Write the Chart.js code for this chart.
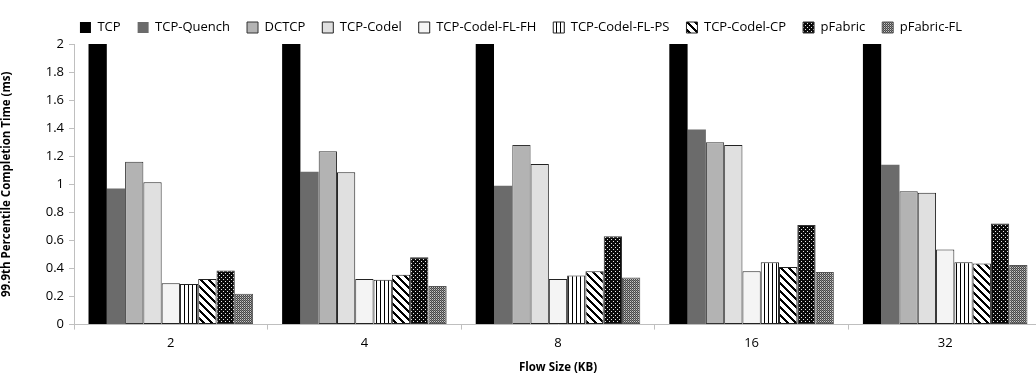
<!DOCTYPE html>
<html>
<head>
<meta charset="utf-8">
<script src="https://cdn.jsdelivr.net/npm/chart.js@4"></script>
<style>
  html, body { margin: 0; padding: 0; background: #fff; overflow: hidden; }
  #wrap { width: 1042px; height: 379px; }
</style>
</head>
<body>
<div id="wrap"><canvas id="myChart"></canvas></div>
<script>
// Flow sizes on the x axis
const flowSizes = ['2', '4', '8', '16', '32'];

// 99.9th percentile completion time (ms), one array per scheme
const tcp          = [3.0, 3.0, 3.0, 3.0, 3.0];   // off the top of the axis
const tcpQuench    = [0.97, 1.09, 0.99, 1.39, 1.14];
const dctcp        = [1.16, 1.235, 1.28, 1.30, 0.95];
const tcpCodel     = [1.015, 1.085, 1.145, 1.28, 0.94];
const codelFlFh    = [0.295, 0.325, 0.325, 0.38, 0.535];
const codelFlPs    = [0.29, 0.32, 0.35, 0.445, 0.445];
const codelCp      = [0.325, 0.355, 0.38, 0.41, 0.435];
const pFabric      = [0.385, 0.48, 0.63, 0.71, 0.72];
const pFabricFl    = [0.22, 0.275, 0.335, 0.375, 0.425];

const yTicks = [0, 0.2, 0.4, 0.6, 0.8, 1, 1.2, 1.4, 1.6, 1.8, 2];

// small helper to build fill patterns pixel by pixel
function makePattern(size, pick) {
    const c = document.createElement('canvas');
    c.width = size; c.height = size;
    const g = c.getContext('2d');
    const img = g.createImageData(size, size);
    for (let y = 0; y < size; y++) {
        for (let x = 0; x < size; x++) {
            const v = pick(x, y);
            const i = (y * size + x) * 4;
            img.data[i] = v; img.data[i + 1] = v; img.data[i + 2] = v; img.data[i + 3] = 255;
        }
    }
    g.putImageData(img, 0, 0);
    return g.createPattern(c, 'repeat');
}

const ctx = document.querySelector('#myChart').getContext('2d');

const vStripes = makePattern(4, (x, y) => x === 0 ? 0 : 255);
const dStripes = makePattern(8, (x, y) => ((x - y + 16) % 8) < 3 ? 0 : 255);
const dots     = makePattern(4, (x, y) => ((x === 1 && y === 1) || (x === 3 && y === 3)) ? 230 : 10);
const checks   = makePattern(4, (x, y) => ((x + y) % 2 === 0) ? 70 : ((x % 2 === 0) ? 200 : 130));

function ds(label, data, fill, border, bw) {
    return {
        label: label,
        data: data,
        backgroundColor: fill,
        borderColor: border,
        borderWidth: bw,
        borderSkipped: false
    };
}

const config = {
    type: 'bar',
    data: {
        labels: flowSizes,
        datasets: [
            ds('TCP', tcp, '#000000', '#000000', 0),
            ds('TCP-Quench', tcpQuench, '#6b6b6b', '#6b6b6b', 0),
            ds('DCTCP', dctcp, '#b3b3b3', '#333333', 1),
            ds('TCP-Codel', tcpCodel, '#e0e0e0', '#222222', 1),
            ds('TCP-Codel-FL-FH', codelFlFh, '#f4f4f4', '#222222', 1),
            ds('TCP-Codel-FL-PS', codelFlPs, vStripes, '#222222', 1),
            ds('TCP-Codel-CP', codelCp, dStripes, '#222222', 1),
            ds('pFabric', pFabric, dots, '#333333', 1),
            ds('pFabric-FL', pFabricFl, checks, '#555555', 1)
        ]
    },
    options: {
        responsive: true,
        maintainAspectRatio: false,
        animation: false,
        layout: { padding: { top: 4, right: 0, left: 0, bottom: 4 } },
        datasets: {
            bar: { categoryPercentage: 0.85, barPercentage: 1.0 }
        },
        plugins: {
            tooltip: { enabled: false },
            legend: {
                position: 'top',
                labels: {
                    boxWidth: 11,
                    boxHeight: 11,
                    padding: 17,
                    color: '#000',
                    font: { family: 'Open Sans', size: 13 }
                }
            }
        },
        scales: {
            x: {
                grid: { drawOnChartArea: false, color: '#bfbfbf', tickLength: 5, offset: true },
                border: { color: '#bfbfbf' },
                ticks: { color: '#000', font: { family: 'Open Sans', size: 13 }, padding: 6 },
                title: {
                    display: true,
                    text: 'Flow Size (KB)',
                    color: '#000',
                    font: { family: 'Open Sans', size: 11.5, weight: 'bold' },
                    padding: { top: 4, bottom: 0 }
                }
            },
            y: {
                min: 0,
                max: 2,
                afterFit: function (axis) { axis.width = 74; },
                afterBuildTicks: function (axis) { axis.ticks = yTicks.map(v => ({ value: v })); },
                grid: { drawOnChartArea: false, color: '#bfbfbf', tickLength: 5 },
                border: { color: '#bfbfbf' },
                ticks: {
                    color: '#000',
                    font: { family: 'Open Sans', size: 13 },
                    padding: 5,
                    callback: function (v) { return String(Math.round(v * 10) / 10); }
                },
                title: {
                    display: true,
                    text: '99.9th Percentile Completion Time (ms)',
                    color: '#000',
                    font: { family: 'Open Sans', size: 11.5, weight: 'bold' },
                    padding: { top: 0, bottom: 2 }
                }
            }
        }
    }
};

new Chart(ctx, config);
</script>
</body>
</html>
